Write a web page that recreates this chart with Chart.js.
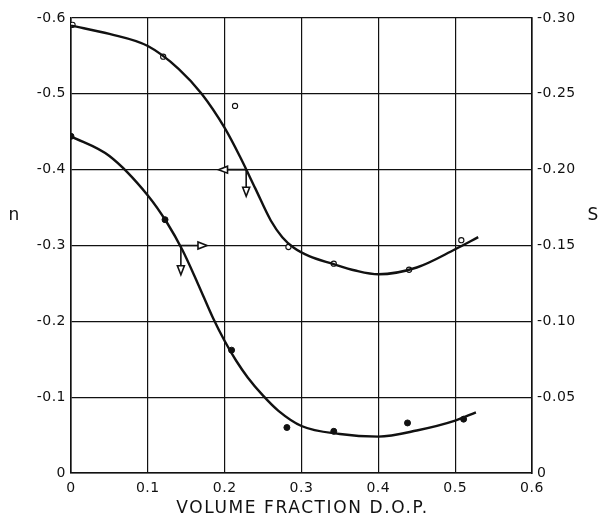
<!DOCTYPE html>
<html>
<head>
<meta charset="utf-8">
<script src="https://cdn.jsdelivr.net/npm/chart.js@4.4.1/dist/chart.umd.min.js"></script>
<style>
  html, body { margin: 0; padding: 0; background: #fff; }
  #wrap { width: 603px; height: 520px; }
</style>
</head>
<body>
<div id="wrap"><canvas id="dopChart"></canvas></div>
<script>
// measured n (open circles, left axis)
const nFraction = [0.002, 0.120, 0.2135, 0.283, 0.342, 0.440, 0.508];
const nValues = [-0.591, -0.549, -0.484, -0.298, -0.276, -0.268, -0.307];
// smoothed n curve
const nCurveX = [0, 0.05, 0.10, 0.14, 0.17, 0.20, 0.22, 0.24, 0.26, 0.275, 0.29, 0.31, 0.34, 0.37, 0.40, 0.45, 0.50, 0.53];
const nCurveY = [-0.590, -0.579, -0.563, -0.533, -0.500, -0.455, -0.417, -0.375, -0.333, -0.311, -0.297, -0.286, -0.276, -0.267, -0.262, -0.271, -0.295, -0.311];

// measured S (filled circles, right axis)
const sFraction = [0.0, 0.1224, 0.209, 0.281, 0.342, 0.438, 0.511];
const sValues = [-0.222, -0.167, -0.081, -0.030, -0.0275, -0.033, -0.0355];
// smoothed S curve
const sCurveX = [0, 0.05, 0.10, 0.125, 0.145, 0.165, 0.185, 0.20, 0.215, 0.23, 0.25, 0.27, 0.30, 0.35, 0.40, 0.45, 0.50, 0.527];
const sCurveY = [-0.222, -0.209, -0.183, -0.165, -0.147, -0.125, -0.102, -0.087, -0.074, -0.063, -0.051, -0.041, -0.031, -0.0257, -0.024, -0.028, -0.0345, -0.040];

// axis ticks
const xTicks = [0, 0.1, 0.2, 0.3, 0.4, 0.5, 0.6];
const nTicks = [0, -0.1, -0.2, -0.3, -0.4, -0.5, -0.6];
const sTicks = [0, -0.05, -0.10, -0.15, -0.20, -0.25, -0.30];

// axis pointers: [fromX, fromY, horizontal tipX, vertical tipY]
const nPointer = [0.228, -0.40, 0.192, -0.365];
const sPointer = [0.143, -0.15, 0.177, -0.1307];

const ink = '#111';
const font = { family: "'DejaVu Sans', sans-serif", size: 14 };

const toXY = (xs, ys) => xs.map((x, i) => ({ x, y: ys[i] }));

function drawHead(ctx, x, y, dir) {
  // open triangular arrow head pointing in dir
  const len = 9, half = 3.5;
  ctx.beginPath();
  if (dir === 'left') { ctx.moveTo(x, y); ctx.lineTo(x + len, y - half); ctx.lineTo(x + len, y + half); }
  if (dir === 'right') { ctx.moveTo(x, y); ctx.lineTo(x - len, y - half); ctx.lineTo(x - len, y + half); }
  if (dir === 'down') { ctx.moveTo(x, y); ctx.lineTo(x - half, y - len); ctx.lineTo(x + half, y - len); }
  ctx.closePath();
  ctx.fillStyle = '#fff';
  ctx.fill();
  ctx.stroke();
}

const pointers = {
  id: 'pointers',
  afterDatasetsDraw(chart) {
    const { ctx, scales } = chart;
    const list = [[nPointer, scales.yN], [sPointer, scales.yS]];
    ctx.save();
    ctx.strokeStyle = ink;
    ctx.lineWidth = 1.6;
    list.forEach(([p, ys]) => {
      const x0 = scales.x.getPixelForValue(p[0]);
      const y0 = ys.getPixelForValue(p[1]);
      const xt = scales.x.getPixelForValue(p[2]);
      const yt = ys.getPixelForValue(p[3]);
      const dir = xt < x0 ? 'left' : 'right';
      const hx = dir === 'left' ? xt + 9 : xt - 9;
      ctx.beginPath();
      ctx.moveTo(x0, y0); ctx.lineTo(hx, y0);
      ctx.moveTo(x0, y0); ctx.lineTo(x0, yt - 9);
      ctx.stroke();
      drawHead(ctx, xt, y0, dir);
      drawHead(ctx, x0, yt, 'down');
    });
    ctx.restore();
  }
};

// slightly wider lettering for tick labels, plus the axis titles
const lettering = {
  id: 'lettering',
  beforeDraw(chart) { chart.ctx.letterSpacing = '0.5px'; },
  afterDraw(chart) {
    const { ctx, chartArea } = chart;
    ctx.save();
    ctx.fillStyle = ink;
    ctx.textAlign = 'center';
    ctx.textBaseline = 'middle';
    ctx.letterSpacing = '1.6px';
    ctx.font = "17px 'DejaVu Sans', sans-serif";
    ctx.fillText('VOLUME FRACTION D.O.P.', (chartArea.left + chartArea.right) / 2 + 1, 509);
    ctx.letterSpacing = '0px';
    ctx.fillText('n', 14, 216);
    ctx.fillText('S', 593, 216);
    ctx.restore();
    ctx.letterSpacing = '0px';
  }
};

new Chart(document.getElementById('dopChart'), {
  type: 'scatter',
  data: {
    datasets: [
      {
        type: 'line', data: toXY(nCurveX, nCurveY), yAxisID: 'yN',
        borderColor: ink, borderWidth: 2.4, pointRadius: 0,
        cubicInterpolationMode: 'monotone', fill: false
      },
      {
        type: 'line', data: toXY(sCurveX, sCurveY), yAxisID: 'yS',
        borderColor: ink, borderWidth: 2.4, pointRadius: 0,
        cubicInterpolationMode: 'monotone', fill: false
      },
      {
        data: toXY(nFraction, nValues), yAxisID: 'yN',
        pointRadius: 2.6, pointBackgroundColor: '#fff', pointBorderColor: ink, pointBorderWidth: 1.1
      },
      {
        data: toXY(sFraction, sValues), yAxisID: 'yS',
        pointRadius: 3, pointBackgroundColor: ink, pointBorderColor: ink, pointBorderWidth: 1
      }
    ]
  },
  options: {
    responsive: true,
    maintainAspectRatio: false,
    animation: false,
    layout: { padding: { top: 18, left: 0, right: 0, bottom: 0 } },
    plugins: { legend: { display: false }, tooltip: { enabled: false } },
    scales: {
      x: {
        type: 'linear', min: 0, max: 0.6,
        afterBuildTicks: s => { s.ticks = xTicks.map(value => ({ value })); },
        afterFit: s => { s.height = 47; },
        grid: { color: ink, lineWidth: 1.2, drawTicks: false },
        border: { color: ink, width: 1.6 },
        ticks: { color: ink, font, padding: 7, maxRotation: 0,
          callback: v => v === 0 ? '0' : v.toFixed(1) }
      },
      yN: {
        type: 'linear', position: 'left', min: -0.6, max: 0, reverse: true,
        afterBuildTicks: s => { s.ticks = nTicks.map(value => ({ value })); },
        afterFit: s => { s.width = 71; },
        grid: { color: ink, lineWidth: 1.2, drawTicks: false },
        border: { color: ink, width: 1.6 },
        ticks: { color: ink, font, padding: 5,
          callback: v => v === 0 ? '0' : v.toFixed(1) }
      },
      yS: {
        type: 'linear', position: 'right', min: -0.30, max: 0, reverse: true,
        afterBuildTicks: s => { s.ticks = sTicks.map(value => ({ value })); },
        afterFit: s => { s.width = 71; },
        grid: { display: false, drawTicks: false },
        border: { color: ink, width: 1.6 },
        ticks: { color: ink, font, padding: 5,
          callback: v => v === 0 ? '0' : v.toFixed(2) }
      }
    }
  },
  plugins: [pointers, lettering]
});
</script>
</body>
</html>
